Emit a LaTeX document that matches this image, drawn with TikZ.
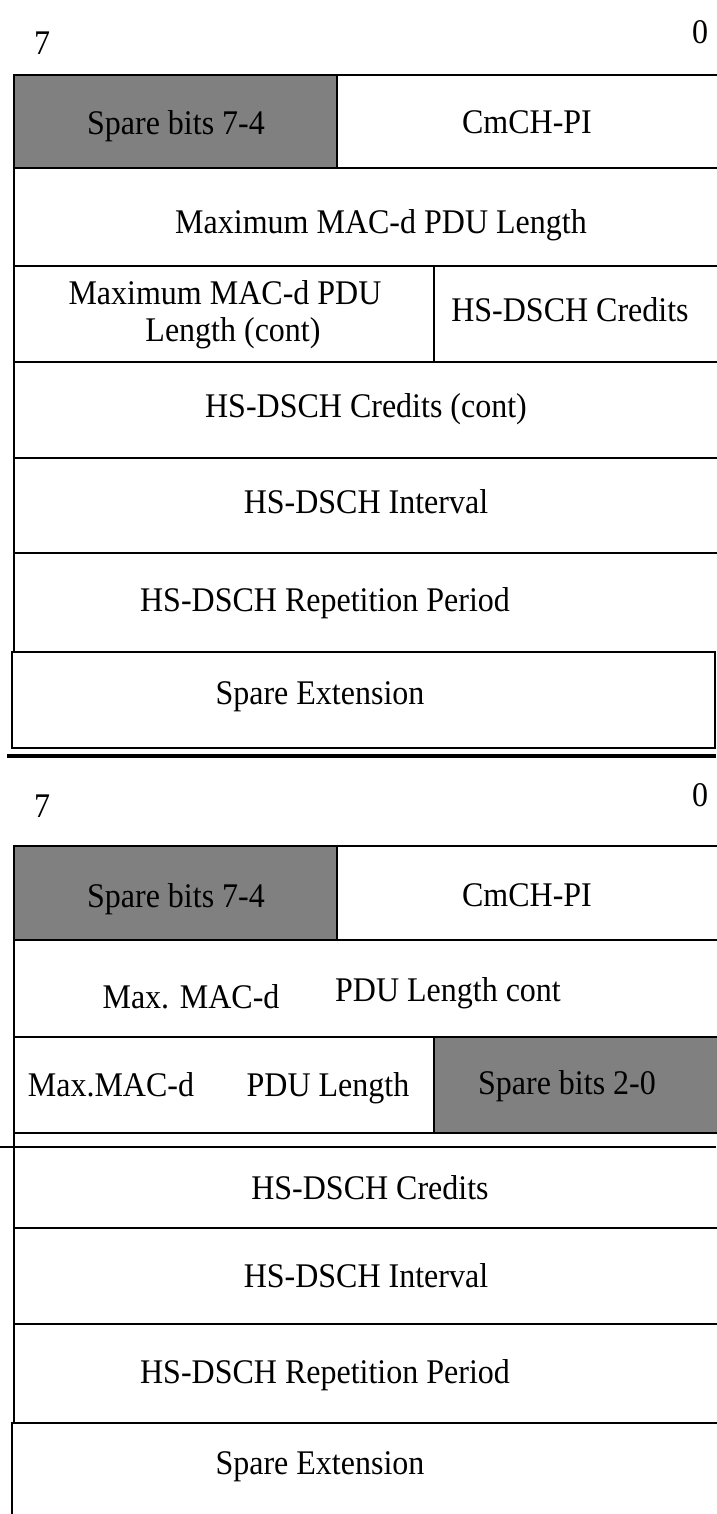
\documentclass[tikz,border=0pt]{standalone}
\usepackage{fontspec}
\setmainfont{Liberation Serif}
\definecolor{sparegray}{HTML}{808080}
\newcommand{\fieldtext}[1]{\scalebox{1}[1.08]{#1}}
\tikzset{
  rule/.style={line width=2pt, line cap=rect},
  heavyrule/.style={line width=2.8pt, line cap=rect},
  sepline/.style={line width=4.5pt},
  hairline/.style={line width=1.2pt},
  lbl/.style={font=\fontsize{32}{36}\selectfont, inner sep=0pt, anchor=base},
  sparefill/.style={fill=sparegray}
}
\begin{document}
\begin{tikzpicture}[x=1pt,y=-1pt]
\useasboundingbox (0,0) rectangle (716,1514);

% ---------------- upper frame format ----------------
\node[lbl] (ua7) at (42,55) {\fieldtext{7}};
\node[lbl] (ua0) at (700,44) {\fieldtext{0}};

\fill[sparefill] (14,75) rectangle (337,168);
\draw[heavyrule] (14,75) -- (718,75);
\draw[rule] (337,75) -- (337,168);
\draw[heavyrule] (14,168) -- (718,168);
\draw[heavyrule] (14,266) -- (718,266);
\draw[rule] (434,266) -- (434,362);
\draw[heavyrule] (14,362) -- (718,362);
\draw[rule] (14,458) -- (718,458);
\draw[rule] (14,553) -- (718,553);
\draw[rule] (14,75) -- (14,652);
\draw[rule] (12,652) rectangle (715,748);
\draw[sepline] (7,756) -- (716,756);

\node[lbl] (uspare) at (176,135) {\fieldtext{Spare bits 7-4}};
\node[lbl] (ucmch) at (527,134) {\fieldtext{CmCH-PI}};
\node[lbl] (umaxlen) at (381,234) {\fieldtext{Maximum MAC-d PDU Length}};
\node[lbl] (umaxconta) at (225,304) {\fieldtext{Maximum MAC-d PDU}};
\node[lbl] (umaxcontb) at (233,341) {\fieldtext{Length (cont)}};
\node[lbl] (ucred) at (570,321) {\fieldtext{HS-DSCH Credits}};
\node[lbl] (ucredcont) at (366,417) {\fieldtext{HS-DSCH Credits (cont)}};
\node[lbl] (uint) at (366,513) {\fieldtext{HS-DSCH Interval}};
\node[lbl] (urep) at (325,611) {\fieldtext{HS-DSCH Repetition Period}};
\node[lbl] (uext) at (320,704) {\fieldtext{Spare Extension}};

% ---------------- lower frame format ----------------
\node[lbl] (la7) at (42,817) {\fieldtext{7}};
\node[lbl] (la0) at (700,806) {\fieldtext{0}};

\fill[sparefill] (14,846) rectangle (337,940);
\fill[sparefill] (434,1037) rectangle (718,1133);
\draw[heavyrule] (14,846) -- (718,846);
\draw[rule] (337,846) -- (337,940);
\draw[heavyrule] (14,940) -- (718,940);
\draw[heavyrule] (14,1037) -- (718,1037);
\draw[rule] (434,1037) -- (434,1133);
\draw[heavyrule] (14,1133) -- (718,1133);
\draw[hairline] (0,1147) -- (716,1147);
\draw[rule] (14,1228) -- (718,1228);
\draw[rule] (14,1324) -- (718,1324);
\draw[rule] (14,846) -- (14,1423);
\draw[rule] (12,1423) -- (718,1423);
\draw[rule] (12,1423) -- (12,1520);

\node[lbl] (lspare) at (176,907) {\fieldtext{Spare bits 7-4}};
\node[lbl] (lcmch) at (527,906) {\fieldtext{CmCH-PI}};
\node[lbl] (lmaxa) at (191,1008) {\fieldtext{Max. MAC-d}};
\node[lbl] (lmaxb) at (448,1001) {\fieldtext{PDU Length cont}};
\node[lbl] (lmaxc) at (111,1096) {\fieldtext{Max.MAC-d}};
\node[lbl] (lmaxd) at (328,1096) {\fieldtext{PDU Length}};
\node[lbl] (lspare2) at (567,1094) {\fieldtext{Spare bits 2-0}};
\node[lbl] (lcred) at (370,1199) {\fieldtext{HS-DSCH Credits}};
\node[lbl] (lint) at (366,1287) {\fieldtext{HS-DSCH Interval}};
\node[lbl] (lrep) at (325,1383) {\fieldtext{HS-DSCH Repetition Period}};
\node[lbl] (lext) at (320,1474) {\fieldtext{Spare Extension}};
\end{tikzpicture}
\end{document}
